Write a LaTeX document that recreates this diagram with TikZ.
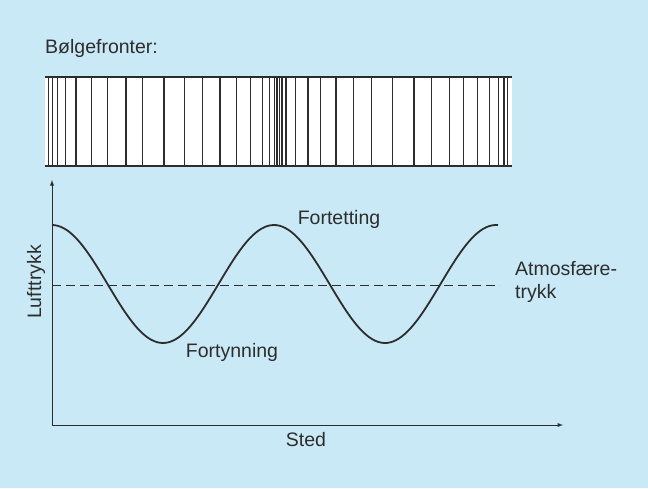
\documentclass[tikz,border=0pt]{standalone}
\usepackage{fontspec}
\setmainfont{Liberation Sans}
\definecolor{bgblue}{RGB}{202,233,246}
\definecolor{ink}{RGB}{45,45,45}
\tikzset{
  label text/.style = {font = \fontsize{19.5}{23}\selectfont, text = ink, inner sep = 0},
  front/.style = {ink, line width = 1.1}
}
\begin{document}
\begin{tikzpicture}[x = 1pt, y = -1pt]
\fill [bgblue] (0, 0) rectangle (648, 488);
\useasboundingbox (0, 0) rectangle (648, 488);
\node [label text, anchor = west] (title) at (45, 48) {Bølgefronter:};
\fill [white] (45, 77) rectangle (512, 166);
\draw [ink, line width = 1.4] (45, 77) -- (512, 77);
\draw [ink, line width = 1.4] (45, 166) -- (512, 166);
\foreach \xf in {48.3, 52.3, 57.3, 65.7, 76, 91.7, 107.3, 126, 142.7, 164, 184.7, 202.3, 220, 236.7, 250.3, 262.3, 269.3, 274.3, 277, 279.3, 282, 286, 295.7, 308, 320.7, 336, 353.3, 371.7, 392.7, 414, 431.7, 449.3, 463.3, 477.7, 489.3, 498.3, 504, 507.7}
  \draw [front] (\xf, 77) -- (\xf, 166);
\coordinate (origin) at (52, 425);
\coordinate (ytop) at (52, 180);
\coordinate (xend) at (563, 425);
\draw [ink, line width = 0.9, -latex] (origin) -- (ytop);
\draw [ink, line width = 0.9, -latex] (origin) -- (xend);
\coordinate (atmleft) at (52, 285);
\coordinate (atmright) at (500, 285);
\draw [ink, line width = 0.9, dash pattern = on 9pt off 5pt] (atmleft) -- (atmright);
\draw [ink, line width = 1.8, domain = 52:498, samples = 150, smooth]
  plot (\x, {284 - 59*cos((\x - 52)/222*360)});
\node [label text] (dense) at (339, 219) {Fortetting};
\node [label text] (sparse) at (232, 352) {Fortynning};
\node [label text] (place) at (306, 440) {Sted};
\node [label text, rotate = 90] (pressure) at (36, 282) {Lufttrykk};
\node [label text, anchor = north west, align = left] (atm) at (515, 261) {Atmosfære-\\trykk};
\end{tikzpicture}
\end{document}
